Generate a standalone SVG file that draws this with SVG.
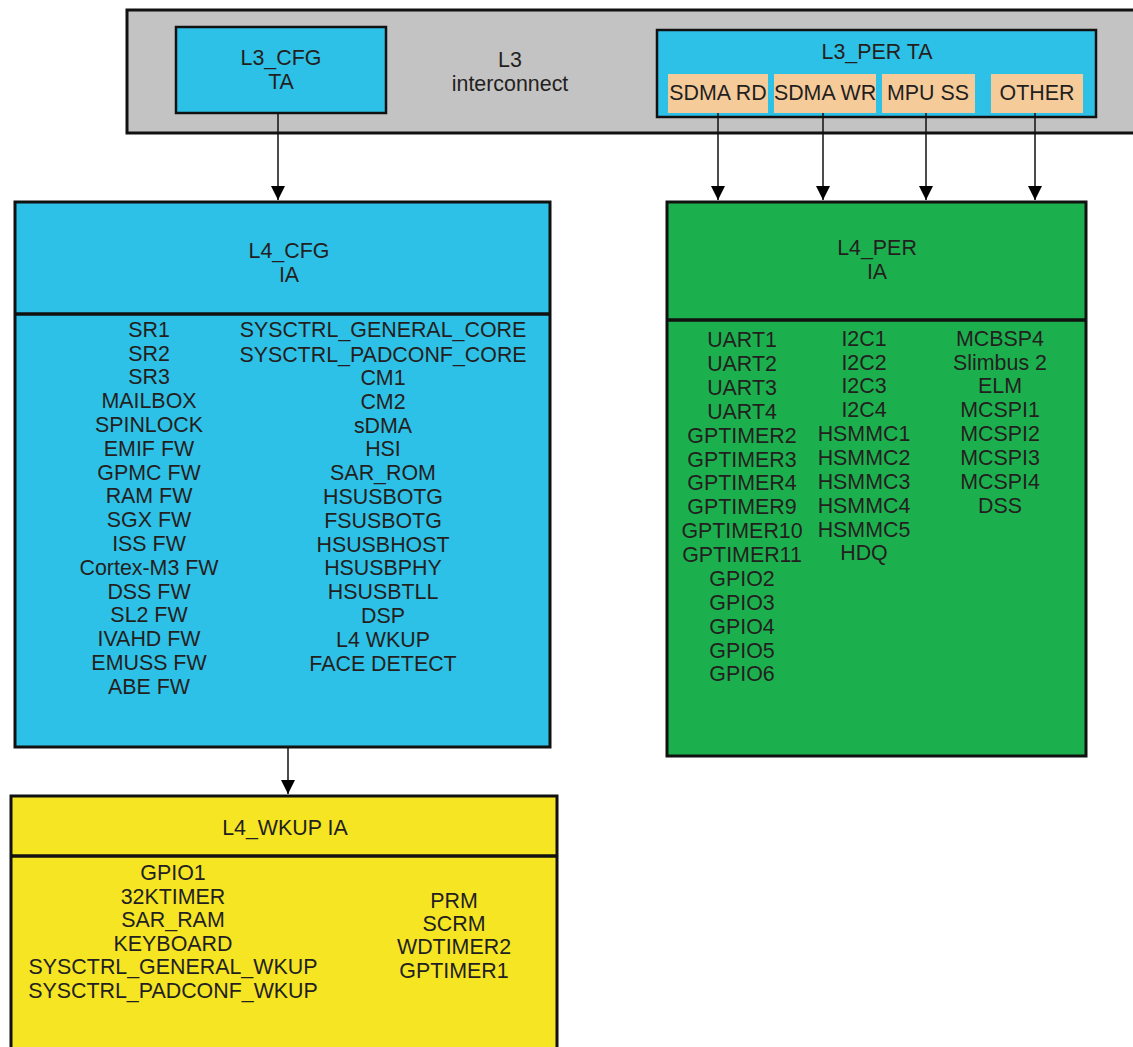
<svg xmlns="http://www.w3.org/2000/svg" width="1133" height="1047" viewBox="0 0 1133 1047">
<style>
text{font-family:"Liberation Sans",Arial,sans-serif;font-size:21.4px;fill:#231f20;text-anchor:middle}
.box{stroke:#111;stroke-width:3}
.cyan{fill:#2ec1e8}
.green{fill:#1bb04d}
.yellow{fill:#f6e523}
.gray{fill:#c3c3c3}
.peach{fill:#f6cb9a}
.div{stroke:#111;stroke-width:3.5}
.conn{stroke:#111;stroke-width:1.5;fill:none}
</style>
<defs>
<marker id="arr" markerUnits="userSpaceOnUse" markerWidth="14" markerHeight="14" refX="14" refY="7" orient="auto" viewBox="0 0 14 14">
<path d="M0,0 L14,7 L0,14 Z" fill="#000"/>
</marker>
</defs>
<g id="l3">
<rect class="box gray" x="127" y="10" width="1020" height="123"/>
<text x="510" y="67">L3</text>
<text x="510" y="91">interconnect</text>
</g>
<g id="l3_cfg">
<rect class="cyan" x="176" y="27" width="210" height="86" stroke="#111" stroke-width="2.5"/>
<text x="281" y="65">L3_CFG</text>
<text x="281" y="89">TA</text>
</g>
<g id="l3_per">
<rect class="cyan" x="657" y="30" width="439" height="87" stroke="#111" stroke-width="2.5"/>
<text x="877" y="59">L3_PER TA</text>
<rect class="peach" x="668" y="74" width="100" height="39"/>
<rect class="peach" x="774" y="74" width="102" height="39"/>
<rect class="peach" x="882" y="74" width="93" height="39"/>
<rect class="peach" x="991" y="74" width="92" height="39"/>
<text x="718" y="100">SDMA RD</text>
<text x="825" y="100">SDMA WR</text>
<text x="928" y="100">MPU SS</text>
<text x="1037" y="100">OTHER</text>
</g>
<g id="l4_cfg">
<rect class="box cyan" x="15" y="202" width="535" height="545"/>
<line class="div" x1="15" y1="314" x2="550" y2="314"/>
<text x="289" y="258">L4_CFG</text>
<text x="289" y="282">IA</text>
<g>
<text x="149" y="337">SR1</text>
<text x="149" y="361">SR2</text>
<text x="149" y="384">SR3</text>
<text x="149" y="408">MAILBOX</text>
<text x="149" y="432">SPINLOCK</text>
<text x="149" y="456">EMIF FW</text>
<text x="149" y="480">GPMC FW</text>
<text x="149" y="503">RAM FW</text>
<text x="149" y="527">SGX FW</text>
<text x="149" y="551">ISS FW</text>
<text x="149" y="575">Cortex-M3 FW</text>
<text x="149" y="599">DSS FW</text>
<text x="149" y="622">SL2 FW</text>
<text x="149" y="646">IVAHD FW</text>
<text x="149" y="670">EMUSS FW</text>
<text x="149" y="694">ABE FW</text>
</g>
<g>
<text x="383" y="337">SYSCTRL_GENERAL_CORE</text>
<text x="383" y="362">SYSCTRL_PADCONF_CORE</text>
<text x="383" y="385">CM1</text>
<text x="383" y="409">CM2</text>
<text x="383" y="433">sDMA</text>
<text x="383" y="456">HSI</text>
<text x="383" y="480">SAR_ROM</text>
<text x="383" y="504">HSUSBOTG</text>
<text x="383" y="528">FSUSBOTG</text>
<text x="383" y="552">HSUSBHOST</text>
<text x="383" y="575">HSUSBPHY</text>
<text x="383" y="599">HSUSBTLL</text>
<text x="383" y="623">DSP</text>
<text x="383" y="647">L4 WKUP</text>
<text x="383" y="671">FACE DETECT</text>
</g>
</g>
<g id="l4_per">
<rect class="box green" x="667" y="202" width="419" height="554"/>
<line class="div" x1="667" y1="320" x2="1086" y2="320"/>
<text x="877" y="255">L4_PER</text>
<text x="877" y="279">IA</text>
<g>
<text x="742" y="347">UART1</text>
<text x="742" y="371">UART2</text>
<text x="742" y="395">UART3</text>
<text x="742" y="419">UART4</text>
<text x="742" y="443">GPTIMER2</text>
<text x="742" y="467">GPTIMER3</text>
<text x="742" y="490">GPTIMER4</text>
<text x="742" y="514">GPTIMER9</text>
<text x="742" y="538">GPTIMER10</text>
<text x="742" y="562">GPTIMER11</text>
<text x="742" y="586">GPIO2</text>
<text x="742" y="610">GPIO3</text>
<text x="742" y="634">GPIO4</text>
<text x="742" y="658">GPIO5</text>
<text x="742" y="681">GPIO6</text>
</g>
<g>
<text x="864" y="346">I2C1</text>
<text x="864" y="370">I2C2</text>
<text x="864" y="393">I2C3</text>
<text x="864" y="417">I2C4</text>
<text x="864" y="441">HSMMC1</text>
<text x="864" y="465">HSMMC2</text>
<text x="864" y="489">HSMMC3</text>
<text x="864" y="513">HSMMC4</text>
<text x="864" y="537">HSMMC5</text>
<text x="864" y="560">HDQ</text>
</g>
<g>
<text x="1000" y="346">MCBSP4</text>
<text x="1000" y="370">Slimbus 2</text>
<text x="1000" y="393">ELM</text>
<text x="1000" y="417">MCSPI1</text>
<text x="1000" y="441">MCSPI2</text>
<text x="1000" y="465">MCSPI3</text>
<text x="1000" y="489">MCSPI4</text>
<text x="1000" y="513">DSS</text>
</g>
</g>
<g id="l4_wkup">
<rect class="box yellow" x="11" y="796" width="546" height="270"/>
<line class="div" x1="11" y1="856" x2="557" y2="856"/>
<text x="285" y="835">L4_WKUP IA</text>
<g>
<text x="173" y="880">GPIO1</text>
<text x="173" y="904">32KTIMER</text>
<text x="173" y="927">SAR_RAM</text>
<text x="173" y="951">KEYBOARD</text>
<text x="173" y="974">SYSCTRL_GENERAL_WKUP</text>
<text x="173" y="998">SYSCTRL_PADCONF_WKUP</text>
</g>
<g>
<text x="454" y="908">PRM</text>
<text x="454" y="931">SCRM</text>
<text x="454" y="954">WDTIMER2</text>
<text x="454" y="978">GPTIMER1</text>
</g>
</g>
<g id="connectors">
<line class="conn" x1="278" y1="113" x2="278" y2="200" marker-end="url(#arr)"/>
<line class="conn" x1="718" y1="113" x2="718" y2="200" marker-end="url(#arr)"/>
<line class="conn" x1="823" y1="113" x2="823" y2="200" marker-end="url(#arr)"/>
<line class="conn" x1="926" y1="113" x2="926" y2="200" marker-end="url(#arr)"/>
<line class="conn" x1="1035" y1="113" x2="1035" y2="200" marker-end="url(#arr)"/>
<line class="conn" x1="288" y1="748" x2="288" y2="794" marker-end="url(#arr)"/>
</g>
</svg>
